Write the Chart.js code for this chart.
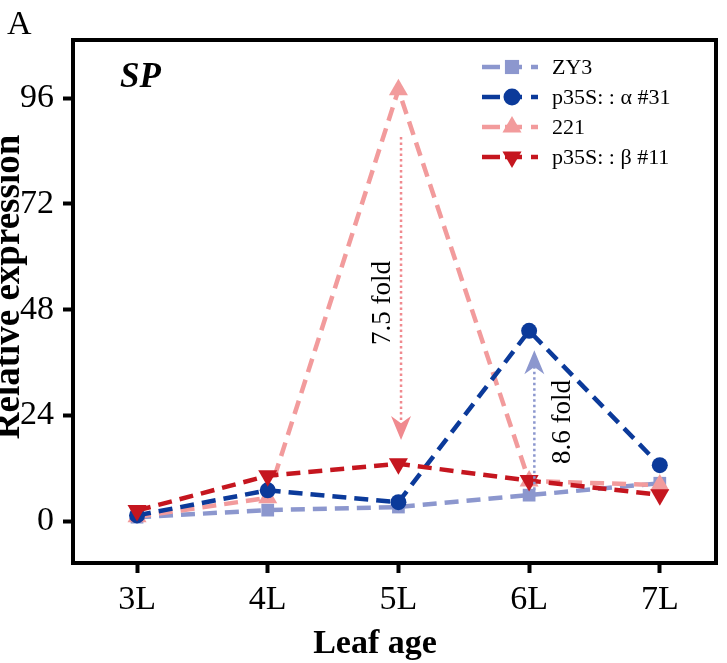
<!DOCTYPE html>
<html><head><meta charset="utf-8">
<script src="https://cdn.jsdelivr.net/npm/chart.js@4.4.1/dist/chart.umd.min.js"></script>
<style>html,body{margin:0;padding:0;background:#fff;} #wrap{width:727px;height:663px;position:relative;}</style>
</head><body><div id="wrap"><canvas id="c" width="727" height="663"></canvas></div>
<script>
// ---- data ----
const categories = ['3L', '4L', '5L', '6L', '7L'];
const yTickValues = [0, 24, 48, 72, 96];
const zy3     = [0.9, 2.5, 3.2, 5.9, 8.6];
const alpha31 = [1.3, 7.0, 4.3, 43.2, 12.7];
const line221 = [1.0, 5.3, 97.9, 9.1, 8.2];
const beta11  = [2.4, 10.3, 13.0, 9.2, 6.0];
const seriesNames = ['ZY3', 'p35S: : α #31', '221', 'p35S: : β #11'];
// fold-change annotations: [x index, from value, to value (tip)]
const foldText  = ['7.5 fold', '8.6 fold'];
const foldX     = [2.02, 3.04];
const foldFrom  = [87.2, 5.9];
const foldTo    = [18.4, 38.8];

const FONT = "'Liberation Serif','Times New Roman',serif";
const colors = { zy3: '#8C97CE', a31: '#0B3A9A', s221: '#F29B9C', b11: '#C5161F' };
const toXY = arr => arr.map((v, i) => ({ x: i, y: v }));

function ds(label, data, color, style, rot, radius, legendRadius, order) {
  return {
    label, data: toXY(data), borderColor: color, backgroundColor: color,
    borderWidth: 4.5, borderDash: [14, 8], pointStyle: style, pointRotation: rot,
    pointRadius: radius, pointHoverRadius: radius, pointBorderWidth: 0,
    legendRadius, tension: 0, fill: false, order
  };
}

const overlay = {
  id: 'overlay',
  afterDatasetsDraw(chart) {
    const ctx = chart.ctx, xs = chart.scales.x, ys = chart.scales.y;
    const arrowCols = ['#F08A8F', '#8C97CE'];
    for (let i = 0; i < foldText.length; i++) {
      const x = xs.getPixelForValue(foldX[i]);
      const y0 = ys.getPixelForValue(foldFrom[i]);
      const yt = ys.getPixelForValue(foldTo[i]);
      const dir = yt > y0 ? 1 : -1;
      const len = 24, hw = 10;
      ctx.save();
      ctx.strokeStyle = arrowCols[i];
      ctx.lineWidth = 2.5;
      ctx.setLineDash([2.5, 3]);
      ctx.beginPath();
      ctx.moveTo(x, y0);
      ctx.lineTo(x, yt - dir * len * 0.7);
      ctx.stroke();
      ctx.setLineDash([]);
      ctx.fillStyle = arrowCols[i];
      ctx.beginPath();
      ctx.moveTo(x, yt);
      ctx.lineTo(x - hw, yt - dir * len);
      ctx.lineTo(x, yt - dir * len * 0.7);
      ctx.lineTo(x + hw, yt - dir * len);
      ctx.closePath();
      ctx.fill();
      ctx.restore();
    }
    // fold texts
    ctx.save();
    ctx.fillStyle = '#000';
    ctx.font = '27px ' + FONT;
    ctx.textAlign = 'center';
    ctx.textBaseline = 'middle';
    const tpos = [[383, 303], [563, 422]];
    for (let i = 0; i < foldText.length; i++) {
      ctx.save();
      ctx.translate(tpos[i][0], tpos[i][1]);
      ctx.rotate(-Math.PI / 2);
      ctx.fillText(foldText[i], 0, 0);
      ctx.restore();
    }
    ctx.restore();
  },
  afterDraw(chart) {
    const ctx = chart.ctx, a = chart.chartArea;
    ctx.save();
    // frame
    ctx.strokeStyle = '#000';
    ctx.lineWidth = 4;
    ctx.strokeRect(a.left, a.top, a.right - a.left, a.bottom - a.top);
    // panel letter
    ctx.fillStyle = '#000';
    ctx.textBaseline = 'alphabetic';
    ctx.textAlign = 'left';
    ctx.font = '34px ' + FONT;
    ctx.fillText('A', 7, 34);
    ctx.font = 'italic bold 35px ' + FONT;
    ctx.fillText('SP', 120, 87);
    // x title
    ctx.textAlign = 'center';
    ctx.font = 'bold 34px ' + FONT;
    ctx.fillText('Leaf age', 375, 653);
    // y title
    ctx.save();
    ctx.translate(19, 287);
    ctx.rotate(-Math.PI / 2);
    ctx.textAlign = 'center';
    ctx.font = 'bold 37px ' + FONT;
    ctx.fillText('Relative expression', 0, 0);
    ctx.restore();
    // legend
    chart.data.datasets.forEach((d, i) => {
      const y = 67 + 30 * i;
      ctx.strokeStyle = d.borderColor;
      ctx.fillStyle = d.backgroundColor;
      ctx.lineWidth = 4.5;
      ctx.setLineDash([]);
      [[482, 500], [505, 522], [531, 538]].forEach(s => {
        ctx.beginPath(); ctx.moveTo(s[0], y); ctx.lineTo(s[1], y); ctx.stroke();
      });
      Chart.helpers.drawPoint(ctx, { pointStyle: d.pointStyle, rotation: d.pointRotation, radius: d.legendRadius, borderWidth: 0 }, 512, y);
      ctx.fillStyle = '#000';
      ctx.font = '22px ' + FONT;
      ctx.textBaseline = 'middle';
      ctx.textAlign = 'left';
      ctx.fillText(d.label, 552, y + 1);
    });
    ctx.restore();
  }
};

new Chart(document.getElementById('c'), {
  type: 'line',
  data: {
    datasets: [
      ds(seriesNames[0], zy3, colors.zy3, 'rect', 0, 9, 10, 3),
      ds(seriesNames[1], alpha31, colors.a31, 'circle', 0, 8, 8.5, 1),
      ds(seriesNames[2], line221, colors.s221, 'triangle', 0, 11, 11, 2),
      ds(seriesNames[3], beta11, colors.b11, 'triangle', 180, 11, 11, 0)
    ]
  },
  options: {
    responsive: false,
    animation: false,
    events: [],
    layout: { padding: { top: 40, right: 7, left: 0, bottom: 0 } },
    plugins: { legend: { display: false }, tooltip: { enabled: false } },
    scales: {
      x: {
        type: 'linear', min: -0.49, max: 4.43,
        afterBuildTicks: s => { s.ticks = categories.map((_, i) => ({ value: i })); },
        afterFit: s => { s.height = 100; },
        ticks: { callback: v => categories[v], font: { family: FONT, size: 34 }, color: '#000', padding: 7, maxRotation: 0, autoSkip: false },
        grid: { display: true, drawOnChartArea: false, drawTicks: true, tickLength: 10, tickWidth: 4, tickColor: '#000' },
        border: { display: false },
        title: { display: false }
      },
      y: {
        type: 'linear', min: -9.5, max: 109.2,
        afterBuildTicks: s => { s.ticks = yTickValues.map(v => ({ value: v })); },
        afterFit: s => { s.width = 73; },
        ticks: { font: { family: FONT, size: 34 }, color: '#000', padding: 9 },
        grid: { display: true, drawOnChartArea: false, drawTicks: true, tickLength: 10, tickWidth: 4, tickColor: '#000' },
        border: { display: false }
      }
    }
  },
  plugins: [overlay]
});
</script>
</body></html>
